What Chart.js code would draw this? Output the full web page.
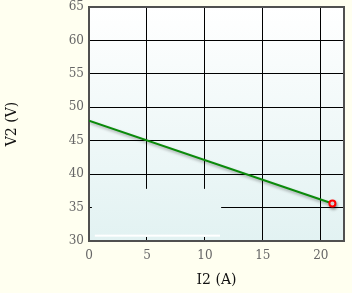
<!DOCTYPE html>
<html><head><meta charset="utf-8">
<script src="https://cdn.jsdelivr.net/npm/chart.js@4.4.1/dist/chart.umd.min.js"></script>
<style>html,body{margin:0;padding:0;background:#fffff0;}#wrap{width:352px;height:293px;}</style>
</head><body><div id="wrap"><canvas id="c" width="352" height="293"></canvas></div>
<script>
const currents = [0, 21];
const voltages = [48, 35.6];
const xTicks = [0, 5, 10, 15, 20];
const yTicks = [30, 35, 40, 45, 50, 55, 60, 65];

function plotGradient(ctx, area){
  const g = ctx.createLinearGradient(0, area.top, 0, area.bottom);
  g.addColorStop(0, '#ffffff');
  g.addColorStop(1, '#e2f2f2');
  return g;
}
const bgPlugin = {
  id: 'bg',
  beforeDraw(chart){
    const {ctx, chartArea:a} = chart;
    ctx.save();
    ctx.fillStyle = '#fffff0';
    ctx.fillRect(0,0,chart.width,chart.height);
    ctx.fillStyle = plotGradient(ctx, a);
    ctx.fillRect(a.left, a.top, a.right-a.left, a.bottom-a.top);
    ctx.restore();
  },
  beforeDatasetsDraw(chart){
    const {ctx, chartArea:a, scales:{x,y}} = chart;
    ctx.save();
    const l = x.getPixelForValue(0.25), r = x.getPixelForValue(11.4);
    const t = y.getPixelForValue(37.8), b = y.getPixelForValue(30.6);
    ctx.fillStyle = plotGradient(ctx, a);
    ctx.fillRect(l, t, r-l, b-t);
    ctx.fillStyle = '#ffffff';
    ctx.fillRect(x.getPixelForValue(0.5), y.getPixelForValue(30.95), x.getPixelForValue(11.3)-x.getPixelForValue(0.5), 2);
    ctx.strokeStyle = '#505050';
    ctx.lineWidth = 2;
    ctx.strokeRect(a.left, a.top, a.right-a.left, a.bottom-a.top);
    ctx.restore();
  },
  beforeDatasetDraw(chart){
    const ctx = chart.ctx;
    ctx.save();
    ctx.shadowColor = 'rgba(0,0,0,0.35)';
    ctx.shadowOffsetX = 1;
    ctx.shadowOffsetY = 2;
    ctx.shadowBlur = 3;
  },
  afterDatasetDraw(chart){
    chart.ctx.restore();
  }
};

new Chart(document.getElementById('c'), {
  type: 'scatter',
  data: { datasets: [{
    data: currents.map((v,i)=>({x:v, y:voltages[i]})),
    showLine: true,
    borderColor: '#0a8a0a',
    borderWidth: 2,
    pointRadius: [0, 3],
    pointBorderWidth: 2,
    pointBorderColor: '#ff0000',
    pointBackgroundColor: '#ffffff',
    tension: 0
  }]},
  options: {
    responsive: false,
    animation: false,
    layout: { padding: { left: 0, right: 8, top: 7, bottom: 0 } },
    plugins: { legend: {display:false}, tooltip:{enabled:false} },
    scales: {
      x: {
        type: 'linear', min: 0, max: 22,
        afterBuildTicks(s){ s.ticks = xTicks.map(v=>({value:v})); },
        afterFit(s){ s.height = 52; s.paddingRight = 0; s.paddingLeft = 0; },
        grid: { color: '#000', lineWidth: 1, drawTicks: false },
        border: { color: '#505050', width: 2 },
        ticks: { color: '#666', font: {family: 'DejaVu Serif', size: 12}, padding: 8 },
        title: { display: true, text: 'I2 (A)', color: '#111', font: {family: 'DejaVu Serif', size: 14}, padding: {top: 3} }
      },
      y: {
        type: 'linear', min: 30, max: 65,
        afterBuildTicks(s){ s.ticks = yTicks.map(v=>({value:v})); },
        afterFit(s){ s.width = 89; s.paddingTop = 0; s.paddingBottom = 0; },
        grid: { color: '#000', lineWidth: 1, drawTicks: false },
        border: { color: '#505050', width: 2 },
        ticks: { color: '#666', font: {family: 'DejaVu Serif', size: 12}, padding: 5 },
        title: { display: true, text: 'V2 (V)', color: '#111', font: {family: 'DejaVu Serif', size: 14}, padding: {bottom: 0} }
      }
    }
  },
  plugins: [bgPlugin]
});
</script></body></html>
